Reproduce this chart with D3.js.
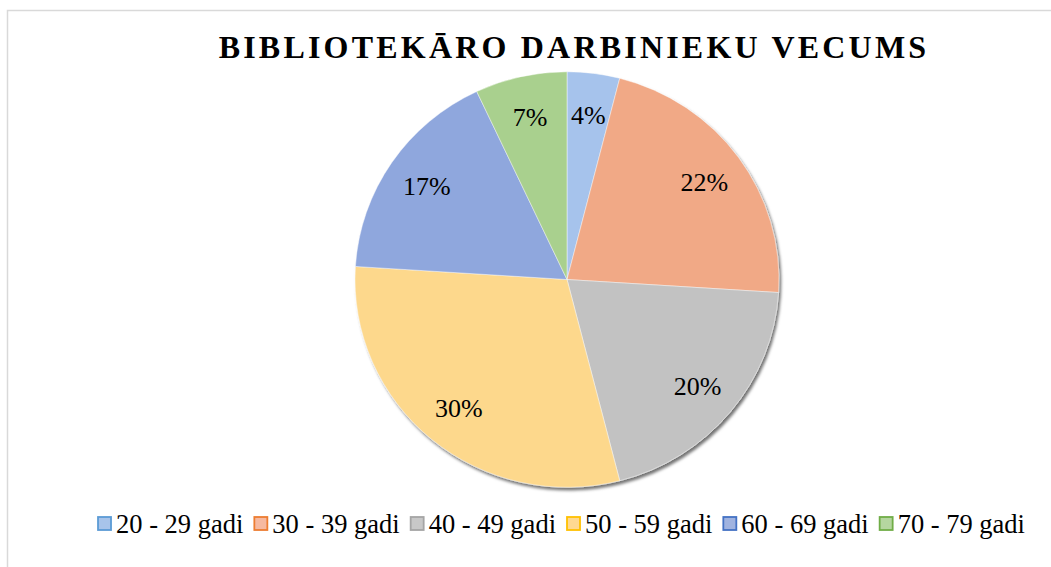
<!DOCTYPE html>
<html>
<head>
<meta charset="utf-8">
<script src="https://cdn.jsdelivr.net/npm/d3@7"></script>
<style>
  body { margin: 0; background: #fff; }
  svg { display: block; }
  svg text { font-family: "Liberation Serif", "Times New Roman", serif; }
</style>
</head>
<body>
<div id="chart"></div>
<script>
// values
var ageGroups = ["20 - 29 gadi", "30 - 39 gadi", "40 - 49 gadi", "50 - 59 gadi", "60 - 69 gadi", "70 - 79 gadi"];
var shares = [4, 22, 20, 30, 17, 7];
var sliceColors = ["#a6c3ec", "#f1a986", "#c2c2c2", "#fdd88c", "#8fa7dd", "#a9d08e"];
var legendFills = ["#a8c4ea", "#f6b9a0", "#c8c8c8", "#ffd991", "#a0b3e0", "#b5d6a0"];
var legendBorders = ["#5b9bd5", "#ed7d31", "#a5a5a5", "#ffc000", "#4472c4", "#70ad47"];
var chartTitle = "BIBLIOTEKĀRO DARBINIEKU VECUMS";

var width = 1051, height = 567;
var cx = 567, cy = 279.5, radius = 212, squash = 0.98;

var svg = d3.select("#chart").append("svg")
    .attr("width", width)
    .attr("height", height);

// chart frame (only top and left edges are visible in the crop)
svg.append("path")
    .attr("d", "M7.5," + height + " V10.5 H" + width)
    .attr("fill", "none")
    .attr("stroke", "#d9d9d9")
    .attr("stroke-width", 1.5);

var defs = svg.append("defs");
defs.append("filter")
    .attr("id", "shadow")
    .attr("x", "-10%").attr("y", "-10%")
    .attr("width", "120%").attr("height", "120%")
    .append("feDropShadow")
    .attr("dx", 2).attr("dy", 3)
    .attr("stdDeviation", 1.8)
    .attr("flood-color", "#000")
    .attr("flood-opacity", 0.55);

svg.append("text")
    .attr("x", 574)
    .attr("y", 58)
    .attr("text-anchor", "middle")
    .style("font-size", "32px")
    .style("font-weight", "bold")
    .style("letter-spacing", "3.2px")
    .attr("fill", "#000")
    .text(chartTitle);

var color = d3.scaleOrdinal().domain(ageGroups).range(sliceColors);

var pie = d3.pie().sort(null).value(function(d) { return d.value; });
var data = ageGroups.map(function(g, i) { return {name: g, value: shares[i]}; });
var arcs = pie(data);

var arc = d3.arc().innerRadius(0).outerRadius(radius);
var labelArc = d3.arc().innerRadius(radius * 0.8).outerRadius(radius * 0.8);

var g = svg.append("g")
    .attr("transform", "translate(" + cx + "," + cy + ")");

g.append("g")
    .attr("filter", "url(#shadow)")
    .attr("transform", "scale(1," + squash + ")")
    .selectAll("path")
    .data(arcs)
    .enter().append("path")
    .attr("d", arc)
    .attr("fill", function(d) { return color(d.data.name); })
    .attr("stroke", "rgba(255,255,255,0.45)")
    .attr("stroke-width", 1);

g.selectAll(".lbl")
    .data(arcs)
    .enter().append("text")
    .attr("class", "lbl")
    .attr("transform", function(d) {
        var c = labelArc.centroid(d);
        return "translate(" + c[0] + "," + (c[1] * squash) + ")";
    })
    .attr("text-anchor", "middle")
    .attr("dy", "0.35em")
    .style("font-size", "26px")
    .attr("fill", "#000")
    .text(function(d) { return d.data.value + "%"; });

// legend, laid out from measured text widths and centred
var legend = svg.append("g");
var items = legend.selectAll("g")
    .data(ageGroups)
    .enter().append("g");

items.append("rect")
    .attr("x", 1).attr("y", -7)
    .attr("width", 13).attr("height", 13)
    .attr("fill", function(d, i) { return legendFills[i]; })
    .attr("stroke", function(d, i) { return legendBorders[i]; })
    .attr("stroke-width", 1.8);

items.append("text")
    .attr("x", 19)
    .attr("dy", "0.33em")
    .style("font-size", "26.5px")
    .attr("fill", "#000")
    .text(function(d) { return d; });

var xPos = 0, gap = 10;
items.each(function() {
    var w = 19 + this.querySelector("text").getComputedTextLength();
    d3.select(this).attr("transform", "translate(" + xPos + ",0)");
    xPos += w + gap;
});
var legendWidth = xPos - gap;
legend.attr("transform", "translate(" + (561 - legendWidth / 2) + ",524)");
</script>
</body>
</html>
